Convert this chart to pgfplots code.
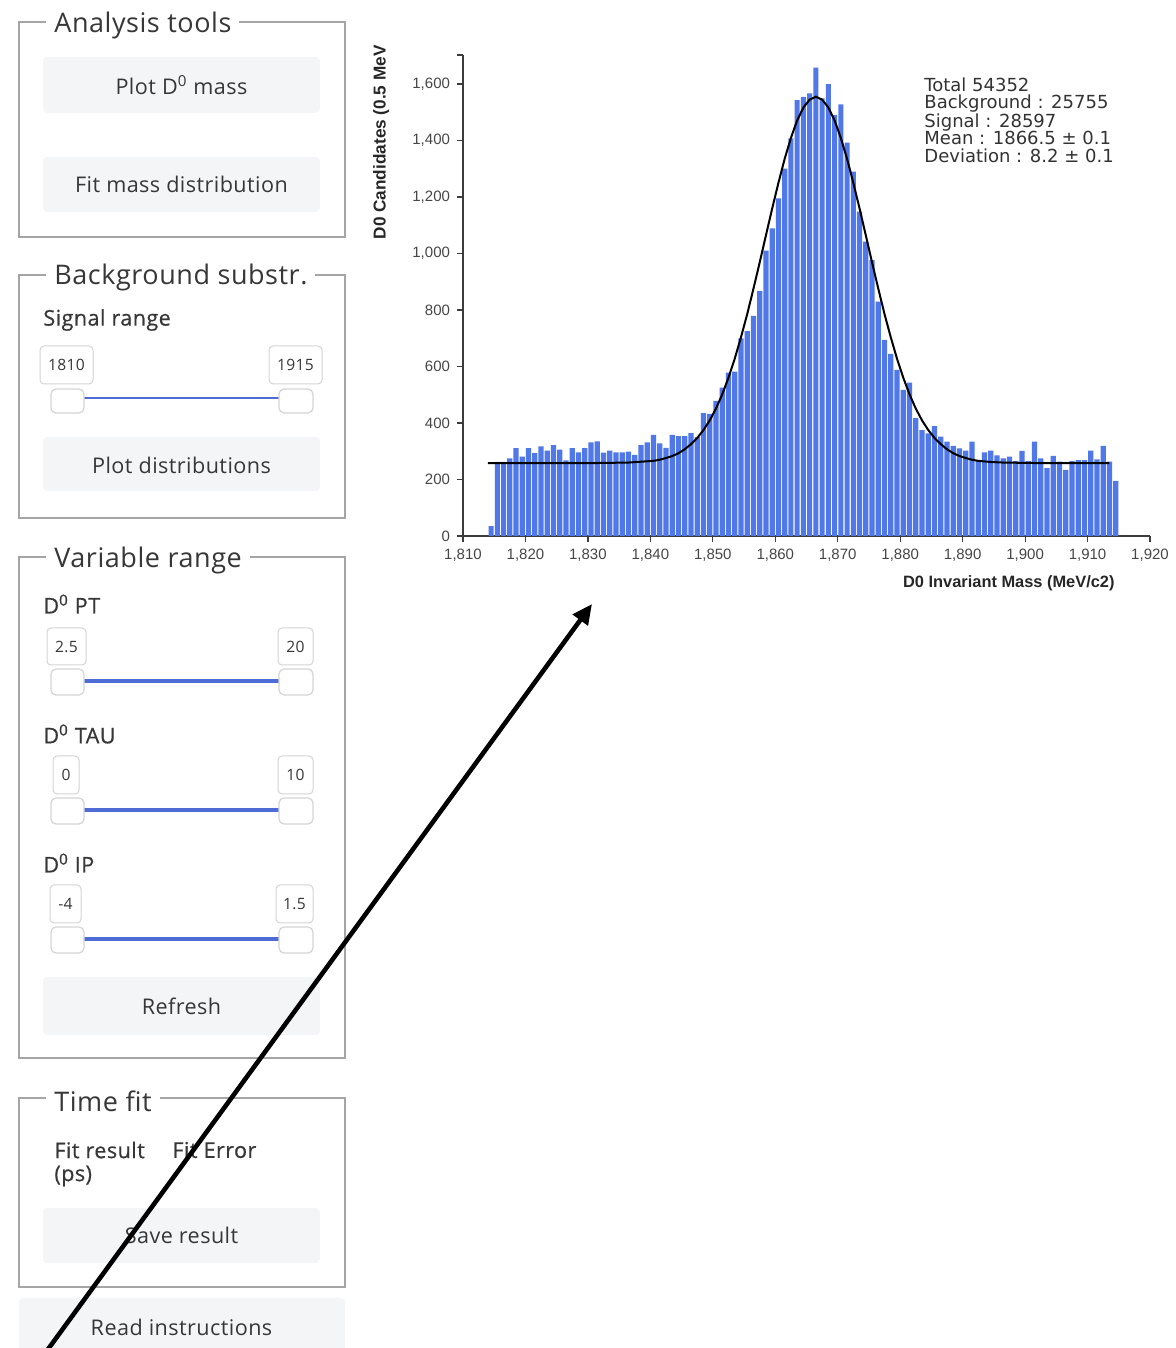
\documentclass[border=0pt]{standalone}
\usepackage{fontspec}
\setmainfont{Open Sans}
\newfontfamily\uifont[LetterSpace=2]{Open Sans}
\newfontfamily\uimed[LetterSpace=2,FakeBold=0.6]{Open Sans}
\newfontfamily\chartfont{Liberation Sans}
\newfontfamily\boxfont{DejaVu Sans}
\usepackage{pgfplots}
\pgfplotsset{compat=1.18}
\usepackage{pgfplotstable}
\usetikzlibrary{arrows.meta}

\definecolor{barblue}{RGB}{80,120,232}
\definecolor{axgray}{RGB}{60,60,60}
\definecolor{ticklab}{RGB}{70,70,70}
\definecolor{fsgray}{RGB}{165,165,165}
\definecolor{btngray}{RGB}{244,245,247}
\definecolor{uitext}{RGB}{55,55,55}
\definecolor{sliderblue}{RGB}{79,107,214}
\definecolor{hborder}{RGB}{212,212,212}

\pgfplotstableread{
m n
1814 35
1815 262
1816 262
1817 275
1818 311
1819 281
1820 311
1821 293
1822 317
1823 302
1824 322
1825 306
1826 268
1827 311
1828 296
1829 311
1830 331
1831 335
1832 295
1833 302
1834 296
1835 296
1836 299
1837 287
1838 322
1839 331
1840 358
1841 328
1842 312
1843 358
1844 354
1845 354
1846 364
1847 350
1848 435
1849 432
1850 478
1851 525
1852 578
1853 582
1854 700
1855 725
1856 779
1857 867
1858 1010
1859 1089
1860 1195
1861 1301
1862 1408
1863 1543
1864 1555
1865 1567
1866 1658
1867 1549
1868 1600
1869 1490
1870 1528
1871 1393
1872 1290
1873 1148
1874 1042
1875 977
1876 830
1877 694
1878 645
1879 588
1880 517
1881 543
1882 417
1883 375
1884 363
1885 389
1886 352
1887 334
1888 319
1889 310
1890 302
1891 334
1892 269
1893 296
1894 302
1895 285
1896 275
1897 281
1898 265
1899 301
1900 265
1901 334
1902 275
1903 240
1904 284
1905 263
1906 234
1907 265
1908 269
1909 269
1910 302
1911 271
1912 319
1913 263
1914 195
}\histdata

\pgfplotstableread{
x y
1814.0 258
1830.5 258
1836.5 260
1838.5 263
1840.5 266
1841.5 270
1842.5 276
1843.5 283
1844.5 293
1845.5 307
1846.5 325
1847.5 347
1848.5 375
1849.5 409
1850.5 451
1851.5 501
1852.5 560
1853.5 627
1854.5 703
1855.5 785
1856.5 875
1857.5 968
1858.5 1064
1859.5 1159
1860.5 1250
1861.5 1335
1862.5 1409
1863.5 1471
1864.5 1517
1865.5 1545
1866.5 1555
1867.5 1545
1868.5 1517
1869.5 1471
1870.5 1409
1871.5 1335
1872.5 1250
1873.5 1159
1874.5 1064
1875.5 968
1876.5 875
1877.5 785
1878.5 703
1879.5 627
1880.5 560
1881.5 501
1882.5 451
1883.5 409
1884.5 375
1885.5 347
1886.5 325
1887.5 307
1888.5 293
1889.5 283
1890.5 276
1891.5 270
1892.5 266
1894.5 262
1896.5 260
1902.5 258
1913.5 258
}\fitdata

\begin{document}
\begin{tikzpicture}
\begin{scope}[x=0.5pt, y=-0.5pt, yshift=674pt,
  fs/.style={draw=fsgray, line width=1pt},
  leg/.style={fill=white, inner xsep=4pt, inner ysep=1pt, anchor=west, text=uitext, font=\uifont\fontsize{13.5}{15}\selectfont},
  btn/.style={fill=btngray, rounded corners=2pt},
  btxt/.style={text=uitext, font=\uifont\fontsize{10.8}{12}\selectfont, inner sep=0pt},
  lab/.style={text=uitext, font=\uimed\fontsize{10.8}{12}\selectfont, inner sep=0pt, anchor=west},
  vbox/.style={draw=hborder, fill=white, rounded corners=2pt, line width=0.5pt},
  vtxt/.style={text=uitext, font=\uifont\fontsize{7.8}{9}\selectfont, inner sep=0pt},
  hdl/.style={draw=hborder, fill=white, rounded corners=2.5pt, line width=0.6pt}]
\path[use as bounding box] (0,0) rectangle (1172,1348);

% Panel 1
\draw[fs] (19,22) rectangle (345,237);
\node[leg] at (46,26) {Analysis tools};
\fill[btn] (43,57) rectangle (320,113);
\node[btxt] at (181.5,85) {Plot D\textsuperscript{0} mass};
\fill[btn] (43,157) rectangle (320,212);
\node[btxt] at (181.5,184.5) {Fit mass distribution};

% Panel 2
\draw[fs] (19,275) rectangle (345,518);
\node[leg] at (46,278) {Background substr.};
\node[lab] at (43,320) {Signal range};
\draw[vbox] (40,346) rectangle (93,384);
\node[vtxt] at (66.5,365) {1810};
\draw[vbox] (269,346) rectangle (322,384);
\node[vtxt] at (295.5,365) {1915};
\draw[sliderblue, line width=1pt] (84,398) -- (280,398);
\draw[hdl] (51,389) rectangle (84,413);
\draw[hdl] (279,389) rectangle (313,413);
\fill[btn] (43,437) rectangle (320,491);
\node[btxt] at (181.5,465) {Plot distributions};

% Panel 3
\draw[fs] (19,557) rectangle (345,1058);
\node[leg] at (46,560) {Variable range};
\node[lab] at (43,604) {D\textsuperscript{0} PT};
\draw[vbox] (47,628) rectangle (86,665);
\node[vtxt] at (66.5,646.5) {2.5};
\draw[vbox] (278,628) rectangle (313,665);
\node[vtxt] at (295.5,646.5) {20};
\draw[sliderblue, line width=2pt] (84,681) -- (280,681);
\draw[hdl] (51,669) rectangle (84,695);
\draw[hdl] (279,669) rectangle (313,695);

\node[lab] at (43,734) {D\textsuperscript{0} TAU};
\draw[vbox] (53,756) rectangle (79,794);
\node[vtxt] at (66,775) {0};
\draw[vbox] (278,756) rectangle (313,794);
\node[vtxt] at (295.5,775) {10};
\draw[sliderblue, line width=2pt] (84,810) -- (280,810);
\draw[hdl] (51,798) rectangle (84,824);
\draw[hdl] (279,798) rectangle (313,824);

\node[lab] at (43,863) {D\textsuperscript{0} IP};
\draw[vbox] (50,885) rectangle (81,923);
\node[vtxt] at (65.5,904) {-4};
\draw[vbox] (276,885) rectangle (313,923);
\node[vtxt] at (294.5,904) {1.5};
\draw[sliderblue, line width=2pt] (84,939) -- (280,939);
\draw[hdl] (51,927) rectangle (84,953);
\draw[hdl] (279,927) rectangle (313,953);

\fill[btn] (43,977) rectangle (320,1035);
\node[btxt] at (181.5,1006) {Refresh};

% Panel 4
\draw[fs] (19,1098) rectangle (345,1287);
\node[leg] at (46,1101) {Time fit};
\node[lab] at (54,1150) {Fit result};
\node[lab] at (54,1176) {(ps)};
\node[lab] at (172,1150) {Fit Error};
\fill[btn] (43,1208) rectangle (320,1263);
\node[btxt] at (181.5,1235) {Save result};
\fill[btn] (19,1298) rectangle (345,1360);
\node[btxt] at (181.5,1327) {Read instructions};

% statistics box
\node[anchor=north west, align=left, inner sep=0pt, text=black!80,
  font=\boxfont\fontsize{9}{8.6}\selectfont] at (924,77)
  {Total 54352\\Background : 25755\\Signal : 28597\\Mean : 1866.5 ± 0.1\\Deviation : 8.2 ± 0.1};

% arrow
\draw[line width=2.3pt, -{Triangle[length=10pt, width=9pt]}] (46,1352) -- (592,604);
\end{scope}

\begin{axis}[
  at={(231.5pt,406pt)}, anchor=south west,
  scale only axis, width=343.5pt, height=240.5pt,
  xmin=1810, xmax=1920, ymin=0, ymax=1703,
  axis x line*=bottom, axis y line*=left,
  axis line style={draw=axgray, line width=0.7pt},
  tick align=outside, major tick length=3pt,
  tick style={draw=axgray, line width=0.6pt},
  xtick={1810,1820,...,1920}, ytick={0,200,...,1600},
  extra y ticks={1703}, extra y tick labels={},
  scaled ticks=false,
  /pgf/number format/1000 sep={,},
  /pgf/number format/assume math mode=true,
  ticklabel style={font=\chartfont\fontsize{7.5}{8}\selectfont, text=ticklab},
  xlabel={D0 Invariant Mass (MeV/c2)},
  ylabel={D0 Candidates (0.5 MeV},
  xlabel style={at={(axis description cs:0.949,-0.098)}, anchor=east, font=\chartfont\bfseries\fontsize{8.2}{9}\selectfont, text=black!85, inner sep=0pt},
  ylabel style={at={(axis description cs:-0.119,1.021)}, anchor=east, font=\chartfont\bfseries\fontsize{8.6}{9}\selectfont, text=black!85, inner sep=0pt},
  clip=false
]
\addplot[ybar, bar width=2.6pt, fill=barblue, draw=none] table[x expr=\thisrow{m}+0.5, y=n] {\histdata};
\addplot[black, line width=1pt] table[x=x, y=y] {\fitdata};
\end{axis}
\end{tikzpicture}
\end{document}
